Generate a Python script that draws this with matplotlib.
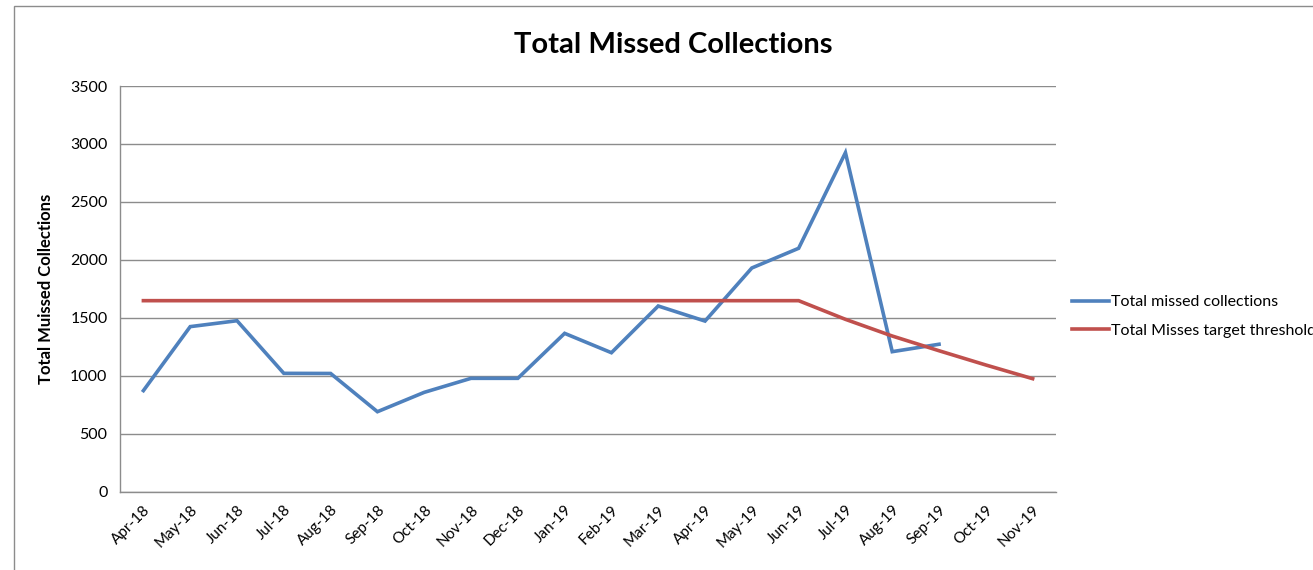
import numpy as np
import matplotlib
matplotlib.use('Agg')
import matplotlib.pyplot as plt
from matplotlib.patches import Rectangle

plt.rcParams['font.family'] = ['Lato', 'DejaVu Sans']

months = ['Apr-18', 'May-18', 'Jun-18', 'Jul-18', 'Aug-18', 'Sep-18', 'Oct-18',
          'Nov-18', 'Dec-18', 'Jan-19', 'Feb-19', 'Mar-19', 'Apr-19', 'May-19',
          'Jun-19', 'Jul-19', 'Aug-19', 'Sep-19', 'Oct-19', 'Nov-19']
missed = [872, 1424, 1475, 1021, 1020, 690, 857, 978, 978, 1366, 1199, 1602,
          1472, 1930, 2100, 2925, 1208, 1272]
threshold = [1648] * 15 + [1487, 1343, 1216, 1093, 975]

blue = '#4F81BD'
red = '#C0504D'
grid_col = '#8C8C8C'

fig = plt.figure(figsize=(13.13, 5.70), dpi=100)
ax = fig.add_axes([0.0914, 0.1374, 0.7129, 0.7117])

x = np.arange(len(months))
ax.plot(x[:len(missed)], missed, color=blue, lw=2.6, solid_joinstyle='miter',
        label='Total missed collections', zorder=3)
ax.plot(x, threshold, color=red, lw=2.6, solid_joinstyle='miter',
        label='Total Misses target threshold', zorder=4)

ax.set_xlim(-0.5, len(months) - 0.5)
ax.set_ylim(0, 3500)
ax.set_yticks(np.arange(0, 3501, 500))
ax.yaxis.grid(True, color=grid_col, lw=1.0)
ax.set_axisbelow(True)
ax.set_xticks(x)
ax.set_xticklabels(months, rotation=45, ha='right', rotation_mode='anchor', fontsize=11)
ax.tick_params(axis='both', length=0)
ax.tick_params(axis='y', labelsize=11.5, pad=9)
ax.tick_params(axis='x', pad=8)
for s in ['top', 'right']:
    ax.spines[s].set_visible(False)
for s in ['left', 'bottom']:
    ax.spines[s].set_color(grid_col)
    ax.spines[s].set_linewidth(1.0)

fig.text(0.5126, 0.907, 'Total Missed Collections', ha='center', va='baseline',
         fontsize=21, fontweight='bold')
fig.text(0.035, 0.493, 'Total Muissed Collections', ha='center', va='center',
         rotation=90, fontsize=12, fontweight='bold')

leg = ax.legend(loc='upper left', bbox_to_anchor=(1.01, 0.50), frameon=False,
                fontsize=11.5, handlelength=2.3, handletextpad=0.15,
                labelspacing=0.9, borderaxespad=0)

# chart area border
fig.patches.append(Rectangle((14 / 1313, -0.1), 1.2, 1 - 6 / 570 + 0.1,
                             transform=fig.transFigure, fill=False,
                             edgecolor='#8C8C8C', lw=1.0))

fig.savefig('out.png', dpi=100)
